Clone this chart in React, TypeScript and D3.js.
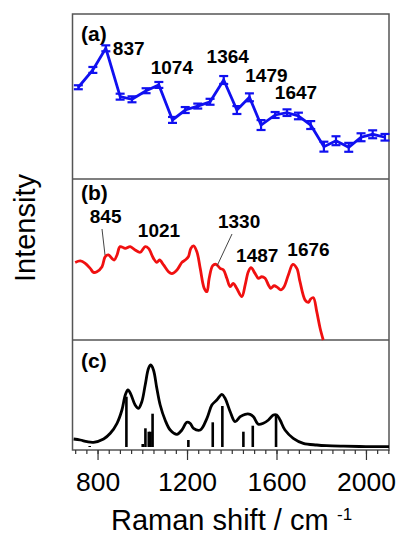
import React, { useEffect, useRef } from "react";
import * as d3 from "d3";

// (a) experimental points with error bars
const shiftA = [714, 779, 837, 901, 954, 1017, 1074, 1135, 1192, 1248, 1303, 1364, 1423, 1479, 1531, 1594, 1647, 1698, 1753, 1812, 1866, 1923, 1978, 2030, 2085];
const intensityA = [55.6, 66.1, 79.2, 49.9, 48.3, 53.5, 57.0, 35.8, 41.8, 44.2, 46.8, 60.0, 41.8, 49.5, 32.7, 38.8, 40.2, 38.2, 32.7, 19.6, 23.2, 19.2, 25.3, 27.1, 25.3];
const errorA = [1.2, 1.8, 1.8, 1.8, 1.8, 1.5, 1.8, 1.8, 1.8, 1.5, 1.8, 2.4, 2.4, 2.4, 3.0, 1.8, 2.0, 2.0, 2.4, 3.0, 2.7, 2.7, 2.4, 2.4, 2.0];
const peaksA = ["837", "1074", "1364", "1479", "1647"];

// (b) measured spectrum
const shiftB = [700, 723, 745, 767, 782, 797, 820, 834, 849, 864, 875, 887, 901, 924, 946, 968, 991, 1013, 1028, 1050, 1065, 1077, 1095, 1117, 1132, 1155, 1177, 1192, 1206, 1217, 1229, 1244, 1259, 1277, 1289, 1299, 1315, 1330, 1348, 1363, 1378, 1393, 1407, 1422, 1445, 1460, 1474, 1486, 1504, 1519, 1534, 1549, 1564, 1574, 1589, 1604, 1619, 1634, 1653, 1673, 1691, 1705, 1728, 1743, 1753, 1765, 1780, 1795, 1809];
const intensityB = [48.2, 49.1, 47.6, 44.5, 42.0, 42.4, 45.5, 51.7, 52.8, 50.7, 49.7, 52.8, 58.0, 56.9, 58.0, 55.9, 54.5, 58.0, 56.9, 50.7, 48.2, 49.7, 46.6, 42.4, 41.2, 43.5, 48.2, 49.7, 51.7, 56.9, 58.4, 54.8, 44.5, 32.1, 30.0, 38.3, 46.2, 47.0, 44.5, 43.5, 38.3, 33.1, 35.2, 32.1, 26.9, 34.2, 42.4, 44.9, 41.4, 38.3, 39.3, 38.3, 34.2, 32.1, 33.7, 32.7, 31.1, 33.1, 40.4, 47.0, 44.5, 36.2, 24.8, 23.4, 25.5, 26.3, 17.6, 7.3, 0];
const peaksB = ["845", "1021", "1330", "1487", "1676"];

// (c) calculated spectrum + sticks
const shiftC = [693, 723, 753, 782, 827, 857, 887, 909, 924, 936, 949, 968, 983, 998, 1013, 1028, 1038, 1050, 1065, 1080, 1102, 1125, 1155, 1177, 1199, 1214, 1229, 1259, 1289, 1311, 1333, 1356, 1370, 1393, 1415, 1438, 1460, 1482, 1497, 1519, 1541, 1564, 1586, 1601, 1616, 1638, 1675, 1720, 1780, 1824, 1900, 2000, 2103];
const intensityC = [8, 7, 5.3, 4.7, 8, 13.7, 23.7, 37, 52, 57, 52.7, 42, 38.7, 45.3, 62, 78.7, 82, 77, 58.7, 42, 27, 17, 12.7, 17, 24.7, 23.7, 18.7, 17, 28.7, 42, 47, 52.7, 48.7, 35.3, 25.3, 30.3, 32.7, 32.7, 30.3, 22.7, 23.7, 27, 32, 32, 27, 17, 8.7, 3.7, 2, 1.3, 0.8, 0.4, 0.3];
const stickShift = [765, 929, 1002, 1014, 1029, 1037, 1046, 1206, 1315, 1358, 1452, 1494, 1598];
const stickHeight = [1, 50.3, 3, 18.7, 15.3, 15.3, 33.3, 7, 24.7, 41, 15.3, 21.3, 32];

const majorTicks = [800, 1200, 1600, 2000];

const FONT = "'Liberation Sans', Arial, sans-serif";

const App = () => {
  const svgRef = useRef<SVGSVGElement | null>(null);

  useEffect(() => {
    const width = 400;
    const height = 542;
    const left = 72.5, right = 389, top = 14, bottom = 450;
    const divAB = 179, divBC = 340;

    const svg = d3.select(svgRef.current).attr("width", width).attr("height", height);
    svg.selectAll("*").remove();

    const x = d3.scaleLinear().domain([688, 2103]).range([left, right]);
    const yA = d3.scaleLinear().domain([0, 100]).range([divAB, top]);
    const yB = d3.scaleLinear().domain([0, 100]).range([divBC, divAB]);
    const yC = d3.scaleLinear().domain([0, 100]).range([447, 347]);

    // frame and panel dividers
    svg.append("rect")
      .attr("x", left).attr("y", top)
      .attr("width", right - left).attr("height", bottom - top)
      .attr("fill", "none").attr("stroke", "#555").attr("stroke-width", 1.5);
    [divAB, divBC].forEach((yy) => {
      svg.append("line")
        .attr("x1", left).attr("x2", right).attr("y1", yy).attr("y2", yy)
        .attr("stroke", "#555").attr("stroke-width", 1.5);
    });

    // x axis: minor ticks every 50, major every 400
    const minor = svg.append("g").attr("transform", `translate(0,${bottom})`)
      .call(d3.axisBottom(x).tickValues(d3.range(700, 2101, 50)).tickSize(4).tickFormat(() => ""));
    minor.select(".domain").remove();
    minor.selectAll("line").attr("stroke", "#333").attr("stroke-width", 1.2);

    const major = svg.append("g").attr("transform", `translate(0,${bottom})`)
      .call(d3.axisBottom(x).tickValues(majorTicks).tickSize(10).tickPadding(12).tickFormat(d3.format("d")));
    major.select(".domain").remove();
    major.selectAll("line").attr("stroke", "#333").attr("stroke-width", 1.2);
    major.selectAll("text")
      .attr("font-family", FONT).attr("font-size", 26.5).attr("fill", "#000");

    // axis titles
    const xt = svg.append("text")
      .attr("x", 111).attr("y", 530)
      .attr("font-family", FONT).attr("font-size", 29).attr("fill", "#000");
    xt.append("tspan").text("Raman shift / cm");
    xt.append("tspan").attr("x", 337).attr("y", 520).attr("font-size", 17).text("-1");

    svg.append("text")
      .attr("transform", "translate(35,228) rotate(-90)")
      .attr("text-anchor", "middle")
      .attr("font-family", FONT).attr("font-size", 29).attr("fill", "#000")
      .text("Intensity");

    // panel letters
    [["(a)", 41], ["(b)", 200], ["(c)", 368]].forEach(([t, yy]) => {
      svg.append("text").attr("x", 81).attr("y", yy as number)
        .attr("font-family", FONT).attr("font-size", 21).attr("font-weight", "bold")
        .text(t as string);
    });

    // (a) line with error bars
    const blue = "#1010f0";
    const ptsA = shiftA.map((s, i) => ({ s, v: intensityA[i], e: errorA[i] }));
    svg.append("path")
      .datum(ptsA)
      .attr("fill", "none").attr("stroke", blue).attr("stroke-width", 2.8)
      .attr("d", d3.line<any>().x((d) => x(d.s)).y((d) => yA(d.v)));
    const eb = svg.append("g").attr("stroke", blue).attr("stroke-width", 2.2);
    ptsA.forEach((d) => {
      const cx = x(d.s);
      eb.append("line").attr("x1", cx).attr("x2", cx).attr("y1", yA(d.v - d.e)).attr("y2", yA(d.v + d.e));
      [d.v - d.e, d.v + d.e].forEach((vv) => {
        eb.append("line").attr("x1", cx - 4.5).attr("x2", cx + 4.5).attr("y1", yA(vv)).attr("y2", yA(vv));
      });
    });

    // label placement for (a): [dx from peak, baseline y]
    const labA: [number, number, string][] = [[7, 55, "start"], [13, 74, "middle"], [4, 63, "middle"], [17, 82, "middle"], [9, 99, "middle"]];
    peaksA.forEach((p, i) => {
      svg.append("text")
        .attr("x", x(+p) + labA[i][0]).attr("y", labA[i][1])
        .attr("text-anchor", labA[i][2])
        .attr("font-family", FONT).attr("font-size", 19).attr("font-weight", "bold")
        .text(p);
    });

    // (b) red spectrum
    svg.append("path")
      .datum(shiftB.map((s, i) => [s, intensityB[i]] as [number, number]))
      .attr("fill", "none").attr("stroke", "#f01010").attr("stroke-width", 2.8)
      .attr("stroke-linejoin", "round")
      .attr("d", d3.line().x((d) => x(d[0])).y((d) => yB(d[1])).curve(d3.curveCatmullRom));

    const labB: [number, number][] = [[-2, 223], [12, 237], [23, 228], [6, 262], [15, 256]];
    peaksB.forEach((p, i) => {
      svg.append("text")
        .attr("x", x(+p) + labB[i][0]).attr("y", labB[i][1])
        .attr("text-anchor", "middle")
        .attr("font-family", FONT).attr("font-size", 19).attr("font-weight", "bold")
        .text(p);
    });
    // leader lines
    svg.append("line").attr("x1", 102).attr("y1", 229).attr("x2", 105).attr("y2", 255)
      .attr("stroke", "#444").attr("stroke-width", 1);
    svg.append("line").attr("x1", 232).attr("y1", 234).attr("x2", 217).attr("y2", 266)
      .attr("stroke", "#444").attr("stroke-width", 1);

    // (c) calculated spectrum
    svg.append("path")
      .datum(shiftC.map((s, i) => [s, intensityC[i]] as [number, number]))
      .attr("fill", "none").attr("stroke", "#000").attr("stroke-width", 2.8)
      .attr("d", d3.line().x((d) => x(d[0])).y((d) => yC(d[1])).curve(d3.curveCatmullRom));

    svg.append("g").selectAll("line")
      .data(stickShift.map((s, i) => ({ s, h: stickHeight[i] })))
      .enter().append("line")
      .attr("x1", (d) => x(d.s)).attr("x2", (d) => x(d.s))
      .attr("y1", yC(0)).attr("y2", (d) => yC(d.h))
      .attr("stroke", "#000").attr("stroke-width", 2.6);
  }, []);

  return (
    <svg ref={svgRef} style={{ position: "absolute", left: 0, top: 0, background: "#fff" }}></svg>
  );
};

export default App;
